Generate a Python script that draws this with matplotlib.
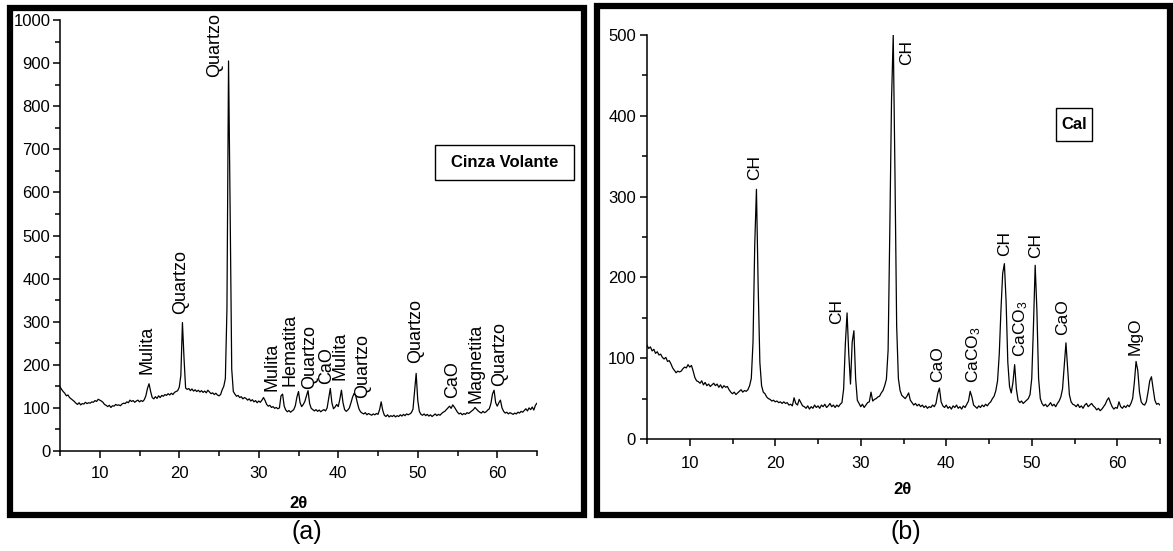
import numpy as np
import matplotlib.pyplot as plt
from matplotlib.patches import Rectangle
from matplotlib.ticker import MultipleLocator

plt.rcParams['font.family'] = ['Liberation Sans', 'DejaVu Sans']
plt.rcParams['mathtext.fontset'] = 'custom'
plt.rcParams['mathtext.rm'] = 'Liberation Sans'
plt.rcParams['mathtext.it'] = 'Liberation Sans:italic'
plt.rcParams['mathtext.bf'] = 'Liberation Sans:bold'

W, H = 1173, 551

# 2-theta scan, 0.2 degree step
two_theta = np.round(np.arange(5.0, 65.0001, 0.2), 1)

# (a) fly ash, counts per step (rows of 2 degrees)
counts_a = [
    149, 143, 138, 134, 128, 130, 124, 121, 118, 115,   # 5
    111, 108, 112, 107, 110, 109, 113, 110, 112, 111,   # 7
    114, 113, 117, 115, 120, 118, 116, 113, 108, 106,   # 9
    103, 106, 101, 105, 104, 108, 106, 107, 105, 109,   # 11
    111, 110, 114, 112, 118, 115, 117, 113, 116, 118,   # 13
    114, 117, 115, 119, 128, 145, 156, 138, 124, 121,   # 15
    126, 122, 128, 124, 129, 127, 131, 129, 133, 130,   # 17
    134, 131, 136, 138, 140, 148, 175, 298, 215, 146,   # 19
    143, 145, 140, 144, 139, 142, 138, 141, 137, 140,   # 21
    136, 139, 135, 141, 137, 133, 135, 131, 134, 130,   # 23
    128, 131, 142, 150, 168, 330, 905, 560, 190, 138,   # 25
    132, 127, 129, 124, 126, 121, 124, 122, 118, 121,   # 27
    116, 119, 114, 117, 112, 116, 113, 118, 124, 117,   # 29
    108, 104, 106, 101, 103, 99, 101, 98, 100, 128,     # 31
    132, 104, 95, 91, 94, 90, 93, 96, 105, 125,         # 33
    138, 112, 103, 108, 115, 128, 140, 110, 99, 96,     # 35
    93, 96, 92, 95, 91, 94, 96, 93, 100, 122,           # 37
    145, 112, 98, 102, 108, 103, 120, 141, 112, 96,     # 39
    92, 95, 100, 112, 125, 134, 128, 112, 98, 91,       # 41
    88, 86, 89, 84, 87, 85, 83, 86, 84, 87,             # 43
    85, 96, 114, 94, 83, 80, 84, 79, 82, 80,            # 45
    83, 79, 82, 80, 84, 81, 85, 82, 86, 84,             # 47
    86, 89, 97, 140, 180, 118, 92, 85, 83, 86,          # 49
    82, 85, 81, 84, 80, 83, 86, 82, 85, 83,             # 51
    87, 90, 92, 96, 100, 104, 99, 107, 102, 96,         # 53
    90, 86, 88, 84, 87, 85, 89, 87, 90, 93,             # 55
    96, 101, 97, 93, 90, 88, 92, 89, 91, 95,            # 57
    98, 110, 132, 141, 112, 104, 112, 118, 100, 92,     # 59
    88, 90, 86, 89, 87, 85, 88, 86, 90, 88,             # 61
    92, 90, 94, 98, 93, 100, 96, 102, 95, 106,          # 63
    111,
]

# (b) lime, counts per step
counts_b = [
    116, 112, 114, 109, 111, 106, 108, 104, 105, 101,   # 5
    99, 101, 96, 97, 93, 88, 85, 82, 84, 83,            # 7
    84, 87, 89, 88, 92, 89, 91, 84, 76, 72,             # 9
    71, 69, 72, 67, 70, 66, 68, 65, 67, 69,             # 11
    66, 68, 64, 67, 63, 66, 64, 65, 61, 58,             # 13
    56, 58, 55, 57, 59, 61, 58, 60, 59, 61,             # 15
    66, 75, 120, 240, 309, 190, 95, 66, 58, 56,         # 17
    52, 50, 49, 47, 48, 46, 47, 45, 46, 44,             # 19
    46, 44, 45, 42, 43, 41, 51, 44, 42, 49,             # 21
    45, 41, 40, 38, 41, 37, 40, 38, 42, 39,             # 23
    41, 38, 42, 40, 43, 39, 41, 44, 40, 42,             # 25
    39, 42, 40, 43, 45, 62, 118, 156, 105, 68,          # 27
    120, 134, 75, 48, 44, 40, 43, 39, 42, 45,           # 29
    46, 58, 47, 49, 50, 52, 53, 57, 60, 66,             # 31
    74, 110, 260, 420, 500, 330, 140, 75, 60, 54,       # 33
    52, 50, 53, 57, 48, 45, 42, 44, 41, 43,             # 35
    40, 42, 39, 41, 38, 40, 39, 42, 40, 44,             # 37
    56, 63, 46, 41, 39, 42, 38, 40, 37, 41,             # 39
    39, 42, 38, 40, 37, 41, 39, 43, 47, 59,             # 41
    52, 42, 40, 38, 41, 39, 42, 40, 43, 41,             # 43
    44, 46, 50, 53, 60, 72, 105, 160, 205, 217,         # 45
    170, 95, 65, 57, 70, 92, 62, 48, 45, 47,            # 47
    44, 46, 48, 50, 55, 75, 140, 215, 160, 75,          # 49
    50, 44, 41, 43, 40, 42, 45, 41, 43, 40,             # 51
    44, 47, 52, 62, 90, 119, 88, 55, 46, 43,            # 53
    42, 40, 43, 39, 41, 38, 42, 44, 40, 42,             # 55
    44, 41, 39, 36, 38, 35, 37, 40, 43, 48,             # 57
    51, 45, 40, 37, 39, 38, 46, 40, 38, 41,             # 59
    39, 42, 40, 44, 50, 70, 96, 85, 58, 46,             # 61
    43, 42, 46, 58, 72, 77, 62, 48, 43, 44,             # 63
    42,
]

# phase labels: text, 2-theta, counts where the label starts
phases_a = ["Mulita", "Quartzo", "Quartzo", "Mulita", "Hematita", "Quartzo", "CaO",
            "Mulita", "Quartzo", "Quartzo", "CaO", "Magnetita", "Quartzo"]
phase_x_a = [15.9, 20.2, 24.4, 31.7, 33.9, 36.4, 38.5, 40.2, 43.1, 49.7, 54.4, 57.3, 60.3]
phase_y_a = [179, 318, 868, 140, 151, 145, 155, 165, 123, 205, 123, 112, 151]

phases_b = ["CH", "CH", "CH", "CaO", "CaCO$_3$", "CH", "CaCO$_3$", "CH", "CaO", "MgO"]
phase_x_b = [17.6, 27.2, 35.4, 39.0, 43.2, 46.8, 48.7, 50.5, 53.6, 62.1]
phase_y_b = [320, 142, 463, 70, 69, 226, 102, 224, 129, 104]


def px_rect(x0, y0, x1, y1):
    # pixel box (top-left origin) -> figure fraction [left, bottom, width, height]
    return [x0 / W, 1 - y1 / H, (x1 - x0) / W, (y1 - y0) / H]


def style_axes(ax, ymax, ystep, pad):
    ax.set_xlim(5, 65)
    ax.set_ylim(0, ymax)
    for side in ("top", "right"):
        ax.spines[side].set_visible(False)
    for side in ("left", "bottom"):
        ax.spines[side].set_linewidth(1.1)
    ax.xaxis.set_major_locator(MultipleLocator(10))
    ax.xaxis.set_minor_locator(MultipleLocator(5))
    ax.yaxis.set_major_locator(MultipleLocator(ystep))
    ax.yaxis.set_minor_locator(MultipleLocator(ystep / 2))
    ax.tick_params(which="major", direction="out", length=5, width=1.1,
                   labelsize=12, pad=pad)
    ax.tick_params(which="minor", direction="out", length=3.5, width=1.1)
    ax.tick_params(axis="x", pad=pad + 4)


fig = plt.figure(figsize=(W / 100, H / 100), dpi=100)

ax_a = fig.add_axes(px_rect(60, 20, 537, 451))
ax_a.plot(two_theta, counts_a, color="black", lw=0.9)
style_axes(ax_a, 1000, 100, 2)
for name, x, y in zip(phases_a, phase_x_a, phase_y_a):
    ax_a.text(x, y, name, rotation=90, ha="center", va="bottom", fontsize=13)

ax_b = fig.add_axes(px_rect(647, 35, 1160, 439))
ax_b.plot(two_theta, counts_b, color="black", lw=0.9)
style_axes(ax_b, 500, 100, 3)
for name, x, y in zip(phases_b, phase_x_b, phase_y_b):
    ax_b.text(x, y, name, rotation=90, ha="center", va="bottom", fontsize=12.5)

# x axis titles
fig.text(299 / W, 1 - 504 / H, "2θ", ha="center", va="center",
         fontsize=12, fontweight="bold")
fig.text(903 / W, 1 - 489 / H, "2θ", ha="center", va="center",
         fontsize=12, fontweight="bold")

# sample name boxes
fig.patches.append(Rectangle((435 / W, 1 - 180 / H), 139 / W, 35 / H,
                             transform=fig.transFigure, fill=False, lw=1, ec="black"))
fig.text(504.5 / W, 1 - 162.5 / H, "Cinza Volante", ha="center", va="center",
         fontsize=12, fontweight="bold")
fig.patches.append(Rectangle((1056 / W, 1 - 141 / H), 36 / W, 33 / H,
                             transform=fig.transFigure, fill=False, lw=1, ec="black"))
fig.text(1074 / W, 1 - 124.5 / H, "Cal", ha="center", va="center",
         fontsize=12, fontweight="bold")

# heavy panel frames
for x0, y0, x1, y1 in [(10, 8, 584, 515), (596.5, 5.5, 1169.5, 515)]:
    fig.patches.append(Rectangle((x0 / W, 1 - y1 / H), (x1 - x0) / W, (y1 - y0) / H,
                                 transform=fig.transFigure, fill=False, lw=4.5,
                                 ec="black"))

fig.text(307 / W, 1 - 532 / H, "(a)", ha="center", va="center", fontsize=18)
fig.text(906 / W, 1 - 532 / H, "(b)", ha="center", va="center", fontsize=18)

fig.savefig("out.png", dpi=100)
